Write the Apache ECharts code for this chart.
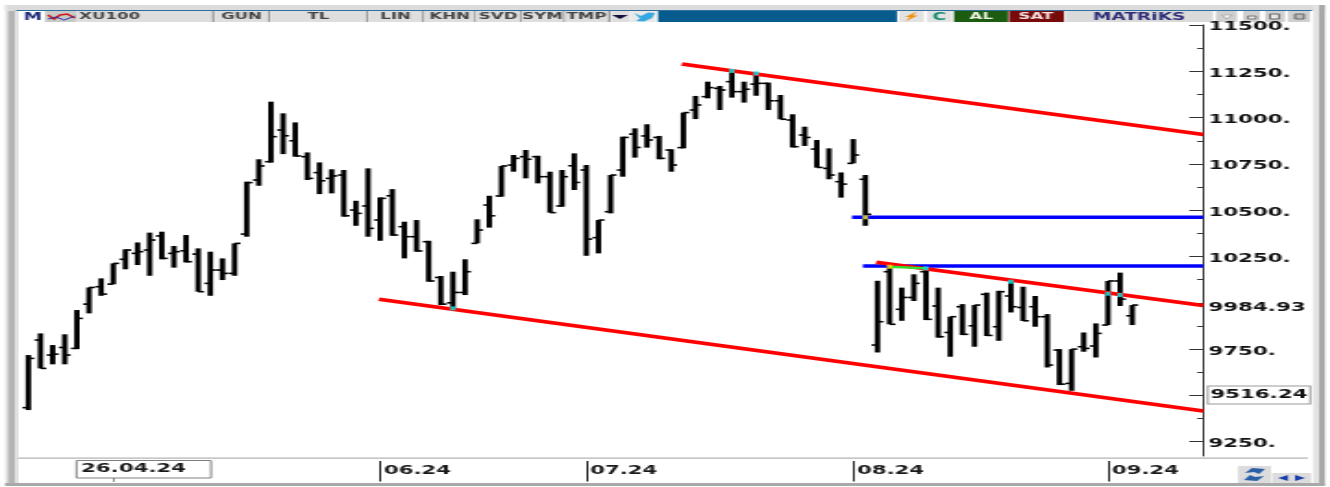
<!DOCTYPE html>
<html>
<head>
<meta charset="utf-8">
<title>XU100</title>
<style>
html, body { margin: 0; padding: 0; background: #fff; overflow: hidden; }
/* the source screenshot is a stretched one, so the whole chart gets stretched the same way */
#container { width: 719px; height: 487px; transform: scaleX(1.85); transform-origin: 0 0; }
</style>
<script src="https://cdn.jsdelivr.net/npm/echarts@6/dist/echarts.min.js"></script>
</head>
<body>
<div id="container"></div>
<script>
// one entry per bar
var barOpen = [9434,9799,9718,9759,9754,9993,10087,10101,10235,10267,10285,10361,10267,10281,10263,10105,10177,10159,
  10371,10663,10762,10933,10875,10789,10703,10672,10690,10501,10523,10447,10578,10411,10357,10330,10137,10000,10056,10321,10528,10577,
  10744,10789,10789,10681,10523,10740,10717,10352,10492,10717,10911,10901,10893,10825,10838,11041,11113,11158,11194,11140,11181,11185,11091,10987,10906,10830,10726,10654,10753,10667,
  9772,10168,9965,10029,10168,9983,9840,9979,9876,10046,9871,10037,9975,9979,9925,9745,9565,9763,9767,9880,10118,9930];
var barClose = [9700,9646,9723,9718,9916,10083,10047,10213,10285,10276,10339,10240,10276,10222,10060,10177,10159,10321,
  10649,10739,10897,10902,10793,10672,10659,10685,10470,10483,10402,10564,10366,10357,10280,10118,9993,10056,10168,10393,10470,10739,
  10780,10775,10681,10487,10681,10650,10344,10447,10690,10893,10839,10879,10780,10744,11027,11068,11162,11149,11140,11153,11185,11091,10991,10843,10893,10731,10690,10641,10798,10478,
  9898,9884,10029,10105,9911,9817,9925,9830,9988,9824,10060,9979,9903,9925,9664,9561,9750,9754,9835,10118,10020,9988];
var barLow = [9421,9646,9668,9668,9750,9943,10038,10100,10181,10204,10146,10235,10190,10218,10060,10038,10123,10146,
  10357,10632,10757,10803,10789,10663,10587,10591,10465,10416,10357,10335,10362,10240,10276,10114,9988,9970,10042,10321,10406,10573,
  10708,10672,10645,10487,10519,10609,10254,10267,10483,10681,10784,10838,10775,10708,10834,10992,11104,11041,11108,11081,11118,11041,10991,10839,10847,10730,10667,10568,10753,10416,
  9732,9884,9903,10010,9907,9812,9709,9826,9763,9821,9795,9948,9902,9871,9651,9556,9525,9736,9705,9880,9983,9880];
var barHigh = [9718,9835,9772,9830,9961,10083,10132,10213,10289,10326,10379,10384,10307,10366,10294,10276,10240,10321,
  10654,10775,11086,11023,10974,10812,10758,10721,10717,10551,10726,10569,10614,10438,10447,10335,10145,10168,10235,10451,10578,10739,
  10798,10825,10794,10708,10717,10807,10744,10447,10690,10897,10942,10964,10901,10829,11027,11117,11194,11171,11252,11194,11239,11189,11122,11018,10951,10879,10834,10704,10884,10690,
  10119,10195,10082,10154,10186,10082,9925,9993,9988,10055,10065,10114,10087,10037,9939,9750,9750,9840,9889,10118,10163,9988];

// axis ticks and labels
var majorTicks = [11500,11250,11000,10750,10500,10250,10000,9750,9500,9250];
var minorTicks = [11375,11125,10875,10625,10375,10125,9875,9625,9375];
var priceLabels = [11500,11250,11000,10750,10500,10250,9984.93,9750,9516.24,9250];
var priceTexts = ['11500.','11250.','11000.','10750.','10500.','10250.','9984.93','9750.','9516.24','9250.'];
var monthBars = [29,46,68,89];
var monthTexts = ['06.24','07.24','08.24','09.24'];

// drawn trend lines, as [bar, price] ends
var redUpper = [[53.87,11289],[96.85,10909]];
var redMiddle = [[69.9,10219],[96.85,9985]];
var redLower = [[28.9,10019],[96.85,9416]];
var blueUpper = [[67.9,10462],[96.85,10462]];
var blueLower = [[68.8,10199],[96.85,10199]];
var greenPiece = [[71,10195],[74,10186]];
var cyanDots = [[35,9970],[58,11252],[60,11239],[74,10186],[81,10114],[89,10049],[90,10042]];
var yellowDots = [[69,10462],[71,10195]];

var S = 1.85;
function X(px) { return px / S; }

function ohlcItem(params, api) {
  var i = api.value(0);
  var cx = api.coord([i, api.value(1)])[0];
  var yo = api.coord([i, api.value(1)])[1];
  var yc = api.coord([i, api.value(2)])[1];
  var yl = api.coord([i, api.value(3)])[1];
  var yh = api.coord([i, api.value(4)])[1];
  var ink = { stroke: '#000', lineWidth: 1.6 };
  return {
    type: 'group',
    children: [
      { type: 'line', shape: { x1: cx, y1: yh, x2: cx, y2: yl }, style: { stroke: '#000', lineWidth: 2.9 } },
      { type: 'line', shape: { x1: cx - 3.2, y1: yo, x2: cx, y2: yo }, style: ink },
      { type: 'line', shape: { x1: cx, y1: yc, x2: cx + 3.2, y2: yc }, style: ink }
    ]
  };
}

function trend(points, color, width) {
  return {
    type: 'line', data: points, symbol: 'none', silent: true, clip: false, z: 3,
    lineStyle: { color: color, width: width }
  };
}

// window frame and toolbar
var barTop = 11, barH = 11;
function box(x0, y0, x1, y1, fill, stroke) {
  return { type: 'rect', shape: { x: X(x0), y: y0, width: X(x1 - x0), height: y1 - y0 },
    style: { fill: fill, stroke: stroke || null, lineWidth: stroke ? 1 : 0 }, silent: true };
}
function word(str, x, y, color, size, align) {
  return { type: 'text', x: X(x), y: y, silent: true,
    style: { text: str, fill: color, font: 'bold ' + (size || 9) + 'px "DejaVu Sans"', align: align || 'center', verticalAlign: 'middle' } };
}
function cell(str, x0, x1) {
  return [box(x0, barTop, x1, barTop + barH, '#dedede'), box(x1, barTop, x1 + 2.5, barTop + barH, '#9c9c9c'),
    word(str, (x0 + x1) / 2, barTop + barH / 2 + 0.5, '#444')];
}
var frame = [
  box(5, 5, 1325, 11, '#dcdcdc'),
  box(5, 5, 8, 485, '#e4e4e4'),
  box(8, 11, 15.5, 483, '#b4b4b4'),
  box(15.5, 11, 18.5, 483, '#e0e0e0'),
  box(1313, 5, 1319, 483, '#e4e4e4'),
  box(1319, 5, 1325, 485, '#a8a8a8'),
  box(5, 483, 1325, 486, '#a8a8a8'),
  box(18, 457.5, 1308, 458.7, '#b4b4b4'),
  box(16, 10, 1312, 11, '#2f6f9f'),
  box(22, 11, 45, 22, '#ffffff'),
  word('M', 33, 17, '#1e2a78', 10),
  box(45, 11, 77, 22, '#c9c9c9'),
  { type: 'polyline', shape: { points: [[X(48),15],[X(54),19],[X(60),15],[X(67),14],[X(75),18]] }, style: { stroke: '#d01818', lineWidth: 1.5, fill: null }, silent: true },
  { type: 'polyline', shape: { points: [[X(48),19],[X(56),17],[X(64),20],[X(75),16]] }, style: { stroke: '#2030a0', lineWidth: 1, fill: null }, silent: true },
  box(77, 11, 212, 22, '#dedede'),
  box(212, 11, 214.5, 22, '#9c9c9c'),
  word('XU100', 79, 17, '#444', 9, 'left')
]
  .concat(cell('GUN', 215, 268), cell('TL', 271, 366), cell('LIN', 369, 422), cell('KHN', 425, 474),
    cell('SVD', 476, 520), cell('SYM', 522, 563), cell('TMP', 565, 608))
  .concat([
    box(611, 11, 630, 22, '#dedede'),
    { type: 'polygon', shape: { points: [[X(612),15],[X(628),15],[X(620),19]] }, style: { fill: '#10103c' }, silent: true },
    box(631, 11, 656, 22, '#e8e8e8'),
    { type: 'polygon', shape: { points: [[X(634),13],[X(641),16],[X(648),12.5],[X(655),13],[X(652),18],[X(644),21.5],[X(636),21],[X(640),18.5]] }, style: { fill: '#35a8e0' }, silent: true },
    box(658, 11, 897, 22, '#065c8c'),
    box(899, 11, 924, 22, '#e2e2e2'),
    { type: 'polygon', shape: { points: [[X(917),11.5],[X(905),17],[X(910),17],[X(905),21.5],[X(918),15.5],[X(913),15.5]] }, style: { fill: '#f09010' }, silent: true },
    box(927, 11, 952, 22, '#e2e2e2'),
    word('C', 939, 17, '#118a70', 10),
    box(954, 11, 1008, 22, '#1c5c10'),
    word('AL', 981, 17, '#eef5e0', 9),
    box(1009, 11, 1064, 22, '#780a0a'),
    word('SAT', 1036, 17, '#f5e0e0', 9),
    box(1066, 11, 1213, 22, '#dadada'),
    word('MATRiKS', 1139, 17, '#2c2c78', 10),
    box(1216, 11, 1237, 22, '#cfcfcf'),
    { type: 'polygon', shape: { points: [[X(1222),15],[X(1232),15],[X(1227),19]] }, style: { fill: '#f4f4f4', stroke: '#888', lineWidth: 0.5 }, silent: true },
    box(1243, 11, 1260, 22, '#cfcfcf'),
    box(1248, 16, 1256, 19, '#e8e8e8', '#777'),
    box(1265, 11, 1285, 22, '#cfcfcf'),
    box(1270, 14, 1279, 19, '#e8e8e8', '#666'),
    box(1288, 11, 1310, 22, '#cfcfcf'),
    box(1295, 14, 1304, 19, '#bbbbbb', '#666'),
    // cursor date box under the chart
    box(76.5, 460.5, 211, 478, '#ffffff', '#808080'),
    word('26.04.24', 81, 469.5, '#1a1a1a', 11.5, 'left'),
    box(113, 478, 114, 482, '#333333'),
    // refresh and scroll buttons
    box(1238, 466, 1271, 483, '#dcdcdc'),
    { type: 'polygon', shape: { points: [[X(1245),473],[X(1252),468],[X(1265),469],[X(1259),474],[X(1254),472]] }, style: { fill: '#2a5fa8' }, silent: true },
    { type: 'polygon', shape: { points: [[X(1264),476],[X(1257),481],[X(1244),480],[X(1250),475],[X(1255),477]] }, style: { fill: '#2a5fa8' }, silent: true },
    box(1272, 473, 1311, 483, '#dcdcdc'),
    { type: 'polygon', shape: { points: [[X(1288),475],[X(1288),481],[X(1278),478]] }, style: { fill: '#1a3fa8' }, silent: true },
    { type: 'polygon', shape: { points: [[X(1295),475],[X(1295),481],[X(1305),478]] }, style: { fill: '#1a3fa8' }, silent: true }
  ]);

var myChart = echarts.init(document.getElementById('container'));
var option = {
  animation: false,
  backgroundColor: '#fff',
  textStyle: { fontFamily: 'DejaVu Sans' },
  grid: { left: X(19), right: X(1330 - 1203), top: 25, bottom: 487 - 456, containLabel: false },
  xAxis: {
    type: 'value', min: -0.77, max: 96.85, offset: 5, splitLine: { show: false },
    axisLine: { show: false, onZero: false },
    axisTick: { show: true, customValues: monthBars, length: 20.5, lineStyle: { color: '#222', width: 1 } },
    axisLabel: {
      customValues: monthBars, margin: 4, align: 'left', padding: [0, 0, 0, 2],
      color: '#1a1a1a', fontWeight: 'bold', fontSize: 11.5, fontFamily: 'DejaVu Sans',
      formatter: function (v) { return monthTexts[monthBars.indexOf(v)]; }
    }
  },
  yAxis: [
    {
      type: 'value', position: 'right', min: 9173, max: 11500, splitLine: { show: false },
      axisLine: { show: true, onZero: false, lineStyle: { color: '#444', width: 1 } },
      axisTick: { show: true, inside: true, customValues: majorTicks, length: 7.5, lineStyle: { color: '#333', width: 1 } },
      axisLabel: {
        customValues: priceLabels, margin: 3, padding: [5, 0, 0, 0],
        color: '#111', fontWeight: 'bold', fontSize: 11.5, fontFamily: 'DejaVu Sans', align: 'left',
        formatter: function (v) {
          var t = priceTexts[priceLabels.indexOf(v)];
          return v === 9516.24 ? '{box|' + t + '}' : t;
        },
        rich: {
          box: { color: '#111', fontWeight: 'bold', fontSize: 11.5, fontFamily: 'DejaVu Sans',
            borderColor: '#999', borderWidth: 1, backgroundColor: '#fff', padding: [3, 1, 2, 1] }
        }
      }
    },
    {
      type: 'value', position: 'right', min: 9173, max: 11500, splitLine: { show: false },
      axisLine: { show: false, onZero: false },
      axisTick: { show: true, inside: true, customValues: minorTicks, length: 3.2, lineStyle: { color: '#333', width: 1 } },
      axisLabel: { show: false }
    }
  ],
  graphic: { elements: frame },
  series: [
    {
      type: 'custom', name: 'XU100', renderItem: ohlcItem, clip: false, z: 2,
      encode: { x: 0, y: [1, 2, 3, 4] },
      data: barOpen.map(function (o, i) { return [i, o, barClose[i], barLow[i], barHigh[i]]; })
    },
    trend(redUpper, '#ff0000', 3.6),
    trend(redLower, '#ff0000', 3.6),
    trend(blueUpper, '#0000ff', 3.4),
    trend(blueLower, '#0000ff', 3.4),
    trend(redMiddle, '#ff0000', 3.6),
    trend(greenPiece, '#30e030', 2.4),
    { type: 'scatter', data: cyanDots, symbol: 'rect', symbolSize: [3, 4], itemStyle: { color: '#00e8e8' }, z: 5, silent: true },
    { type: 'scatter', data: yellowDots, symbol: 'rect', symbolSize: [3, 4], itemStyle: { color: '#ffee00' }, z: 5, silent: true }
  ]
};
myChart.setOption(option);
</script>
</body>
</html>
